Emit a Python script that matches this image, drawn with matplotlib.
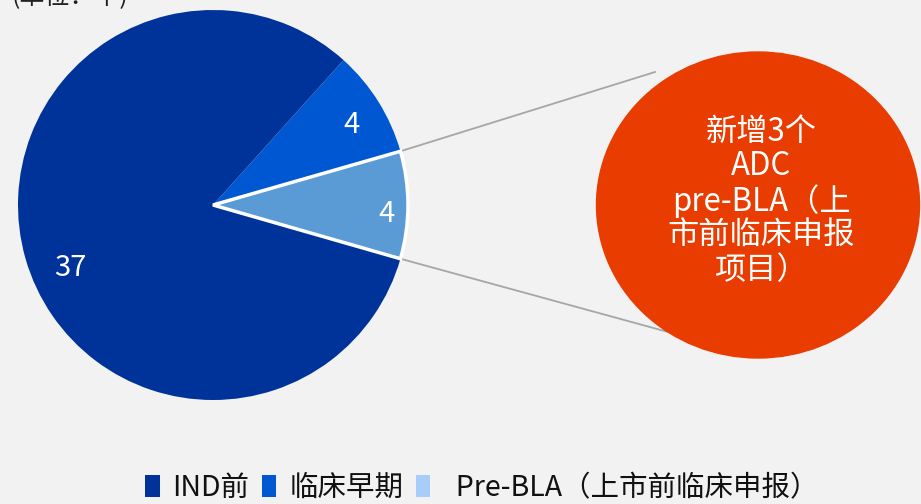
import numpy as np
import matplotlib.pyplot as plt
from matplotlib.patches import Ellipse, Patch

plt.rcParams['font.family'] = ['Noto Sans CJK SC', 'DejaVu Sans']

# data
categories = ['Pre-BLA（上市前临床申报）', '临床早期', 'IND前']
values = [4, 4, 37]
colors = ['#5b9bd5', '#0057d2', '#003399']
legend_order = ['IND前', '临床早期', '  Pre-BLA（上市前临床申报）']
legend_colors = ['#003399', '#0057d2', '#a9cdf9']
callout_text = '新增3个\nADC\npre-BLA（上\n市前临床申报\n项目）'

W, H = 921, 504
fig = plt.figure(figsize=(W / 100, H / 100), dpi=100, facecolor='#f2f2f2')
ax = fig.add_axes([0, 0, 1, 1])

cx, cy, r = 213, H - 205, 195
wedges, _ = ax.pie(values, colors=colors, startangle=-16, counterclock=True,
                   center=(cx, cy), radius=r, frame=True)
ax.set_xlim(0, W)
ax.set_ylim(0, H)
ax.set_aspect('equal')
ax.axis('off')
wedges[0].set_edgecolor('white')
wedges[0].set_linewidth(2.5)
wedges[0].set_zorder(3)

# value labels (distance from centre, angle shift from wedge middle)
dist = [0.89, 0.82, 0.8]
shift = [-3, -2, 8]
for w, v, d, s in zip(wedges, values, dist, shift):
    mid = np.deg2rad((w.theta1 + w.theta2) / 2 + s)
    ax.text(cx + d * r * np.cos(mid), cy + d * r * np.sin(mid), str(v),
            color='white', fontsize=21, ha='center', va='center', zorder=5)

# connector lines from the Pre-BLA wedge to the callout
t1, t2 = np.deg2rad(wedges[0].theta1), np.deg2rad(wedges[0].theta2)
ax.plot([cx + r * np.cos(t2), 655], [cy + r * np.sin(t2), H - 72],
        color='#a6a6a6', lw=1.3, zorder=1)
ax.plot([cx + r * np.cos(t1), 690], [cy + r * np.sin(t1), H - 338],
        color='#a6a6a6', lw=1.3, zorder=1)

ax.add_patch(Ellipse((758, H - 205), 323, 306, color='#e83c00', zorder=4))
ax.text(761, H - 201, callout_text, color='white', fontsize=22.5,
        ha='center', va='center', linespacing=1.08, zorder=5)

ax.text(12, H + 3, '(单位：个)', fontsize=18, ha='left', va='center', color='#222222')

handles = [Patch(facecolor=c, edgecolor='none') for c in legend_colors]
fig.legend(handles, legend_order, loc='center', bbox_to_anchor=(482 / W, 1 - 488 / H),
           ncol=3, frameon=False, fontsize=20.5, handlelength=0.5, handleheight=0.8,
           handletextpad=0.45, columnspacing=0.45, labelcolor='#111111')

fig.savefig('out.png', dpi=100, facecolor=fig.get_facecolor())
